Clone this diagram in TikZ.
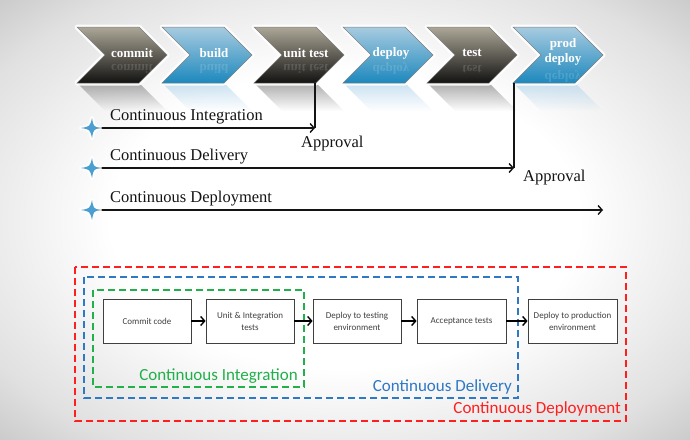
\documentclass[tikz,border=0pt]{standalone}
\usepackage{fontspec}
\usepackage{graphicx}
\setmainfont{Liberation Serif}
\newfontfamily\calfont{Carlito}
\usetikzlibrary{arrows.meta,fadings,shadows}

\definecolor{bluetop}{HTML}{A8CBE0}
\definecolor{bluebot}{HTML}{1C88BD}
\definecolor{darktop}{HTML}{ACA797}
\definecolor{darkbot}{HTML}{121211}
\definecolor{blueref}{HTML}{B5D6EC}
\definecolor{darkref}{HTML}{8A8A8A}
\definecolor{starblue}{HTML}{4A9FD0}
\definecolor{cigreen}{HTML}{22B04B}
\definecolor{cdblue}{HTML}{2E78C4}
\definecolor{cdred}{HTML}{FF1F1F}
\definecolor{boxtext}{HTML}{404040}

\pgfdeclareradialshading{vign}{\pgfpoint{0bp}{0bp}}{color(0bp)=(white); color(17bp)=(white); color(30bp)=(black!12); color(45bp)=(black!35); color(72bp)=(black!60)}

\tikzfading[name=fadedown, top color=transparent!30, bottom color=transparent!100]

\tikzset{
  chevtext/.style={text=white, font=\fontsize{13}{15}\selectfont\bfseries, inner sep=0pt, align=center},
  chevref/.style={text=white, opacity=.14, font=\fontsize{13}{13}\selectfont\bfseries, inner sep=0pt},
  serlabel/.style={anchor=west, inner sep=0pt, font=\fontsize{16.5}{16.5}\selectfont, text=black!92},
  flow/.style={draw=black!92, line width=1.5pt, -{Straight Barb[length=4pt,width=9pt,line width=1.4pt]}},
  riser/.style={draw=black!92, line width=1.5pt},
  stagebox/.style={draw=black!75, line width=.8pt, fill=white, minimum width=88pt, minimum height=44pt,
     inner sep=1pt, align=center, text=boxtext, font=\calfont\fontsize{9}{12}\selectfont,
     drop shadow={opacity=.2, shadow xshift=1.2pt, shadow yshift=-1.2pt}},
  boxflow/.style={draw=black, line width=1.5pt, -{Straight Barb[length=4pt,width=9pt,line width=1.4pt]}},
  zone/.style={line width=1.7pt, dash pattern=on 7pt off 4pt},
  zonelabel/.style={anchor=east, inner sep=0pt, font=\calfont\fontsize{17}{17}\selectfont}
}

\newcommand\mychev[4]{%
  \fill[#4, path fading=fadedown] (#1,83) -- ++(62,0) -- ++(28,28) -- ++(-62,0) -- cycle;
  \draw[white, line width=5pt, opacity=.9, line join=round] (#1,27) -- ++(62,0) -- ++(28,28) -- ++(-28,28) -- ++(-62,0) -- ++(28,-28) -- cycle;
  \path[draw=black!50, line width=.5pt, top color=#2, bottom color=#3, middle color=#2!50!#3] (#1,27) -- ++(62,0) -- ++(28,28) -- ++(-28,28) -- ++(-62,0) -- ++(28,-28) -- cycle;
}

\newcommand\mystar[1]{%
  \begin{scope}[shift={(#1)}]
    \draw[white, line width=4pt, opacity=.85, line join=round] (-11,0) .. controls (-2,-1.5) .. (0,-10) .. controls (1.5,-1.5) .. (8,0) .. controls (1.5,1.5) .. (0,10) .. controls (-2,1.5) .. cycle;
    \fill[starblue] (-11,0) .. controls (-2,-1.5) .. (0,-10) .. controls (1.5,-1.5) .. (8,0) .. controls (1.5,1.5) .. (0,10) .. controls (-2,1.5) .. cycle;
  \end{scope}}

\begin{document}
\begin{tikzpicture}[x=1pt,y=-1pt]
\useasboundingbox (0,0) rectangle (690,439);
\shade[shading=vign] (0,0) rectangle (690,439);

% chevrons
\mychev{77}{darktop}{darkbot}{darkref}
\mychev{162}{bluetop}{bluebot}{blueref}
\mychev{254}{darktop}{darkbot}{darkref}
\mychev{343}{bluetop}{bluebot}{blueref}
\mychev{427}{darktop}{darkbot}{darkref}
\mychev{513}{bluetop}{bluebot}{blueref}

\node[chevtext] (t1) at (132,53) {commit};
\node[chevtext] (t2) at (214,53) {build};
\node[chevtext] (t3) at (306,53) {unit test};
\node[chevtext] (t4) at (391,53) {deploy};
\node[chevtext] (t5) at (472,53) {test};
\node[chevtext] (t6) at (563,52) {prod\\deploy};

\node[chevref] (r1) at (132,69) {\scalebox{1}[-1]{commit}};
\node[chevref] (r2) at (214,69) {\scalebox{1}[-1]{build}};
\node[chevref] (r3) at (306,69) {\scalebox{1}[-1]{unit test}};
\node[chevref] (r4) at (391,69) {\scalebox{1}[-1]{deploy}};
\node[chevref] (r5) at (472,69) {\scalebox{1}[-1]{test}};
\node[chevref] (r6) at (563,77) {\scalebox{1}[-1]{deploy}};

% flows
\coordinate (s1) at (92,128);
\coordinate (s2) at (92,168);
\coordinate (s3) at (92,210);
\coordinate (ut) at (315,83);
\coordinate (pd) at (514,83);
\coordinate (a1) at (315,128);
\coordinate (a2) at (514,168);
\coordinate (a3) at (603,210);

\draw[riser] (ut) -- (a1);
\draw[riser] (pd) -- (a2);
\draw[flow] (s1) -- (a1);
\draw[flow] (s2) -- (a2);
\draw[flow] (s3) -- (a3);
\mystar{s1}
\mystar{s2}
\mystar{s3}

\node[serlabel] (l1) at (110,117) {Continuous Integration};
\node[serlabel] (l2) at (110,157) {Continuous Delivery};
\node[serlabel] (l3) at (110,199) {Continuous Deployment};
\node[serlabel] (ap1) at (301,144) {Approval};
\node[serlabel] (ap2) at (523,178) {Approval};

% lower diagram
\draw[zone, cdred] (75,267) rectangle (626,421);
\draw[zone, cdblue] (84,277) rectangle (518,398);
\draw[zone, cigreen] (93,290) rectangle (304,387);

\node[stagebox] (b1) at (147,321) {Commit code};
\node[stagebox] (b2) at (250,321) {Unit \& Integration\\tests};
\node[stagebox] (b3) at (357,321) {Deploy to testing\\environment};
\node[stagebox, minimum width=89pt] (b4) at (461.5,321) {Acceptance tests};
\node[stagebox, minimum width=89pt] (b5) at (572.5,321) {Deploy to production\\environment};

\draw[boxflow] (b1) -- (b2);
\draw[boxflow] (b2) -- (b3);
\draw[boxflow] (b3) -- (b4);
\draw[boxflow] (b4) -- (b5);

\node[zonelabel, text=cigreen] (z1) at (298,376) {Continuous Integration};
\node[zonelabel, text=cdblue] (z2) at (512,387) {Continuous Delivery};
\node[zonelabel, text=cdred] (z3) at (621,409) {Continuous Deployment};
\end{tikzpicture}
\end{document}
